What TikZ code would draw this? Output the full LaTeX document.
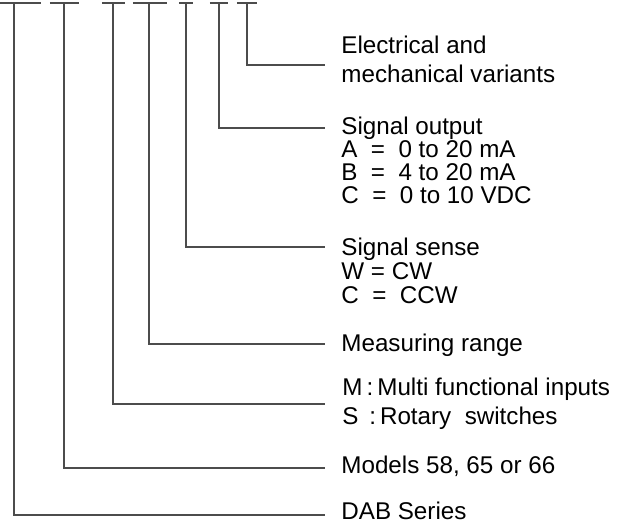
\documentclass[tikz,border=0pt]{standalone}
\usepackage{fontspec}
\setmainfont{Liberation Sans}
\usepackage{tikz}
\usetikzlibrary{positioning}

\begin{document}
\begin{tikzpicture}[x=0.5pt, y=-0.5pt,
  lead/.style={draw=black!70, line width=0.9pt},
  lab/.style={anchor=base west, inner sep=0pt, align=left, font=\fontsize{12.1}{11.5}\selectfont},
  wide/.style={font=\fontsize{12.1}{14.5}\selectfont}]

\useasboundingbox (0,0) rectangle (634,523);

% --- code fields: bar from \a to \b, lead down at \v, out at \y ---
\foreach \n/\a/\b/\v/\y in {1/0/41/14/515, 2/50/79/64/468, 3/102/125/113/404,
  4/133/167/149/344, 5/179/193/186/247, 6/210/228/219/128, 7/237/257/247/65}{
  \draw[lead] (\a,3) -- (\b,3);
  \coordinate (t\n) at (\v,3);
  \coordinate (e\n) at (325,\y);
  \draw[lead] (t\n) |- (e\n);
}

% --- labels (anchored on the last line) ---
\node[lab, wide] (var) at (341,83) {Electrical and\\mechanical variants};
\node[lab] (out) at (341,204) {Signal output\\A\ \ =\ \ 0 to 20 mA\\B\ \ =\ \ 4 to 20 mA\\C\ \ =\ \ 0 to 10 VDC};
\node[lab, font=\fontsize{12.1}{12.2}\selectfont] (sense) at (341,304) {Signal sense\\W = CW\\C\ \ =\ \ CCW};
\node[lab] (range) at (341,352) {Measuring range};
\node[lab, wide] (input) at (342,425) {M\,:\,Multi functional inputs\\S\ \,:\,Rotary\ \ switches};
\node[lab] (model) at (341,474) {Models 58, 65 or 66};
\node[lab] (series) at (341,519.5) {DAB Series};
\end{tikzpicture}
\end{document}
